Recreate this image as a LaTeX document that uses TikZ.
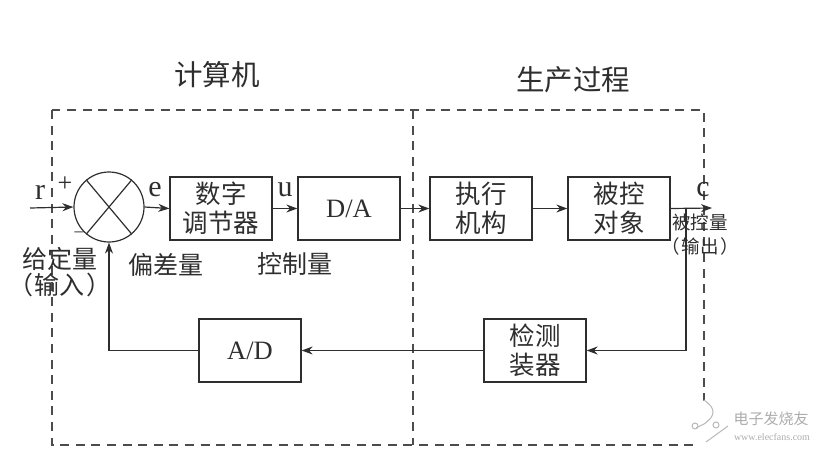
\documentclass[tikz,border=0pt]{standalone}
\usepackage{fontspec}
\setmainfont{Liberation Serif}
\newfontfamily\cjk{Noto Sans CJK SC}[Scale=1.0]
\usetikzlibrary{arrows.meta,calc}
\definecolor{ink}{gray}{0.18}
\definecolor{dashink}{gray}{0.3}
\tikzset{
  x=1pt,y=-1pt,
  wire/.style={draw=ink,line width=1.2pt},
  flow/.style={wire,-{Stealth[length=11pt,width=8pt]}},
  blockbox/.style={draw=ink,line width=1.3pt,minimum width=102pt,minimum height=63pt,inner sep=0pt,align=center,font=\cjk\fontsize{25.5}{29}\selectfont,text=ink},
  latinbox/.style={blockbox,font=\fontsize{26.5}{29}\selectfont},
  frame/.style={draw=dashink,line width=1.1pt,dash pattern=on 9pt off 6.6pt},
  caption/.style={inner sep=0pt,text=ink,align=center,font=\cjk\fontsize{25}{26}\selectfont},
  smallcaption/.style={caption,font=\cjk\fontsize{18.5}{20}\selectfont},
  heading/.style={inner sep=0pt,text=ink,font=\cjk\fontsize{28.5}{30}\selectfont},
  symb/.style={inner sep=0pt,text=ink,font=\fontsize{30}{30}\selectfont},
}
\begin{document}
\begin{tikzpicture}
\useasboundingbox (0,0) rectangle (834,453);

% computer / process boundaries
\coordinate (fa) at (52,110);
\coordinate (fb) at (704,445);
\coordinate (ma) at (413,110);
\coordinate (mb) at (413,445);
\draw[frame] (fa) rectangle (fb);
\draw[frame] (ma) -- (mb);

\node[heading] (tcomp) at (217,75) {计算机};
\node[heading] (tproc) at (573,80) {生产过程};

% summing junction
\node[circle,draw=ink,line width=1.2pt,minimum size=70pt,inner sep=0pt] (sum) at (109,207) {};
\draw[wire] (sum.50) -- (sum.230);
\draw[wire] (sum.130) -- (sum.310);

% forward path
\node[blockbox] (ctrl) at (221,208.5) {数字\\调节器};
\node[latinbox] (da) at (349,208.5) {D/A};
\node[blockbox] (act) at (481,208.5) {执行\\机构};
\node[blockbox] (plant) at (619,208.5) {被控\\对象};

% feedback path
\node[blockbox] (sens) at (535,350.5) {检测\\装器};
\node[latinbox] (ad) at (250,350.5) {A/D};

\coordinate (inp) at (30,208);
\coordinate (outp) at (712,208);
\coordinate (tap) at (686,208);

\draw[flow] (inp) -- (sum.west);
\draw[flow] (sum.east) -- (ctrl.west);
\draw[flow] (ctrl.east) -- (da.west);
\draw[flow] (da.east) -- (act.west);
\draw[flow] (act.east) -- (plant.west);
\draw[flow] (plant.east) -- (outp);
\draw[flow] (tap) |- (sens.east);
\draw[flow] (sens.west) -- (ad.east);
\draw[flow] (ad.west) -| (sum.south);

% signal symbols
\node[symb] (lr) at (40,192) {r};
\node[symb,font=\fontsize{26}{28}\selectfont] (lplus) at (65,184) {+};
\node[inner sep=0pt,text=ink,font=\fontsize{18}{20}\selectfont] (lminus) at (79,232) {\_};
\node[symb] (le) at (155,190) {e};
\node[symb] (lu) at (285,190) {u};
\node[symb] (lc) at (703,190) {c};

% signal captions
\node[caption] (cset) at (60,259) {给定量};
\node[caption] (csetb) at (60,285) {（\kern1pt 输入\kern1pt）};
\node[caption] (cerr) at (166,265) {偏差量};
\node[caption] (cctl) at (295,264) {控制量};
\node[smallcaption] (cout) at (700,222) {被控量};
\node[smallcaption] (coutb) at (700,246) {（\kern2pt 输出\kern2pt）};

% publisher mark
\fill[white] (715,425) circle (27);
\draw[gray!55,line width=1pt] (704,400) .. controls (716,408) and (716,416) .. (704,424) -- (696,428);
\draw[gray!55,line width=1pt] (728,426) -- (706,442);
\draw[gray!55,line width=1pt] (695,426) circle (3) (716,425) circle (3);
\node[inner sep=0pt,text=gray!65,font=\cjk\fontsize{15}{17}\selectfont] (wm) at (771,419) {电子发烧友};
\node[inner sep=0pt,text=gray!65,font=\fontsize{10}{12}\selectfont] (wmu) at (772,437) {www.elecfans.com};
\end{tikzpicture}
\end{document}
